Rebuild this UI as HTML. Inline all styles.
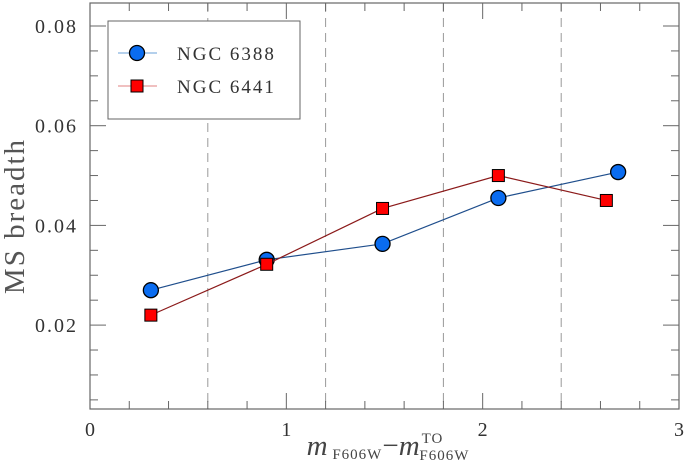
<!DOCTYPE html>
<html><head><meta charset="utf-8"><style>
html,body{margin:0;padding:0;background:#fff;}
svg{display:block;font-family:"Liberation Serif",serif;}
</style></head><body>
<svg id="chart" width="686" height="461"></svg>
<script>
const xCats = [0.31, 0.90, 1.49, 2.08, 2.69];
const ngc6388 = [0.0270, 0.0331, 0.0363, 0.0455, 0.0507];
const xCats6441 = [0.31, 0.90, 1.49, 2.08, 2.63];
const ngc6441 = [0.0220, 0.0322, 0.0434, 0.0500, 0.0450];
const xTickLabels = ["0","1","2","3"];
const yTickValues = [0.02, 0.04, 0.06, 0.08];
const yTickLabels = ["0.02","0.04","0.06","0.08"];
const dashedX = [0.6, 1.2, 1.8, 2.4];

const L=90, R=679, T=3, B=409;
const sx = v => L + v*(R-L)/3;
const sy = v => 26 + (0.08 - v)*4985;
const NS="http://www.w3.org/2000/svg";
const svg=document.getElementById('chart');
function mk(tag, attrs, parent){const e=document.createElementNS(NS,tag);for(const k in attrs)e.setAttribute(k,attrs[k]);(parent||svg).appendChild(e);return e;}

dashedX.forEach(d=>{
  const l=mk('line',{x1:sx(d),x2:sx(d),y1:T,y2:B,stroke:'#999','stroke-width':1,'stroke-dasharray':'9,6'});
  
  
});
const fr=mk('rect',{x:L,y:T,width:R-L,height:B-T,fill:'none',stroke:'#666','stroke-width':1.2});


for(let i=0;i<=15;i++){const v=i*0.2;const major=(i%5===0);const len=major?16:8;
  mk('line',{x1:sx(v),x2:sx(v),y1:B,y2:B-len,stroke:'#666'});
  mk('line',{x1:sx(v),x2:sx(v),y1:T,y2:T+len,stroke:'#666'});}
xTickLabels.forEach((t,i)=>{const e=mk('text',{x:sx(i),y:436,'text-anchor':'middle','font-size':20,fill:'#333'});e.textContent=t;
  
  });
for(let v=0.005;v<=0.0841;v+=0.005){const major=Math.abs(v/0.02-Math.round(v/0.02))<1e-6;const len=major?16:8;const y=sy(v);
  if(y<T||y>B)continue;
  mk('line',{x1:L,x2:L+len,y1:y,y2:y,stroke:'#666'});
  mk('line',{x1:R,x2:R-len,y1:y,y2:y,stroke:'#666'});}
yTickValues.forEach((v,i)=>{const e=mk('text',{x:78,y:sy(v)+7,'text-anchor':'end','font-size':20,'letter-spacing':2,fill:'#333'});e.textContent=yTickLabels[i];
  
  });
const yt=mk('text',{x:24,y:(T+B)/2+10,'text-anchor':'middle','font-size':29,'letter-spacing':2,fill:'#555',transform:`rotate(-90 24 ${(T+B)/2+10})`});
yt.textContent='MS breadth';


const xt=mk('text',{x:388,y:455,'text-anchor':'middle',fill:'#444'});


xt.innerHTML='<tspan font-size="29" font-style="italic">m</tspan><tspan font-size="15" dy="4" letter-spacing="1"> F606W</tspan><tspan font-size="29" dy="-4">−</tspan><tspan font-size="29" font-style="italic">m</tspan><tspan font-size="15" dy="-12" dx="2" letter-spacing="1">TO</tspan><tspan font-size="15" dy="17" dx="-24" letter-spacing="1">F606W</tspan>';

function series(xs, ys, color, marker, name){
  const g=mk('g',{});
  
  
  mk('polyline',{points:xs.map((x,i)=>sx(x)+','+sy(ys[i])).join(' '),fill:'none',stroke:color,'stroke-width':1.2},g);
  xs.forEach((x,i)=>{
    let m;
    if(marker==='circle') m=mk('circle',{cx:sx(x),cy:sy(ys[i]),r:7.5,fill:'#0a6cf0',stroke:'#000','stroke-width':1.3},g);
    else m=mk('rect',{x:sx(x)-6,y:sy(ys[i])-6,width:12,height:12,fill:'#f00',stroke:'#000','stroke-width':1},g);
    
    
  });
}
series(xCats, ngc6388, '#1f4e8c', 'circle', 'ngc6388-series');
series(xCats6441, ngc6441, '#8b1a1a', 'square', 'ngc6441-series');

const lg=mk('g',{});


mk('rect',{x:108,y:21,width:192,height:98,fill:'#fff',stroke:'#666','stroke-width':1},lg);
mk('line',{x1:118,x2:157,y1:53,y2:53,stroke:'#6aa0d8'},lg);
mk('circle',{cx:137,cy:53,r:7.5,fill:'#0a6cf0',stroke:'#000','stroke-width':1.3},lg);
mk('line',{x1:118,x2:157,y1:86,y2:86,stroke:'#e08080'},lg);
mk('rect',{x:131,y:80,width:12,height:12,fill:'#f00',stroke:'#000'},lg);
const t1=mk('text',{x:177,y:60,'font-size':19,'letter-spacing':2,fill:'#333'},lg);t1.textContent='NGC 6388';


const t2=mk('text',{x:177,y:93,'font-size':19,'letter-spacing':2,fill:'#333'},lg);t2.textContent='NGC 6441';


</script>
</body></html>
